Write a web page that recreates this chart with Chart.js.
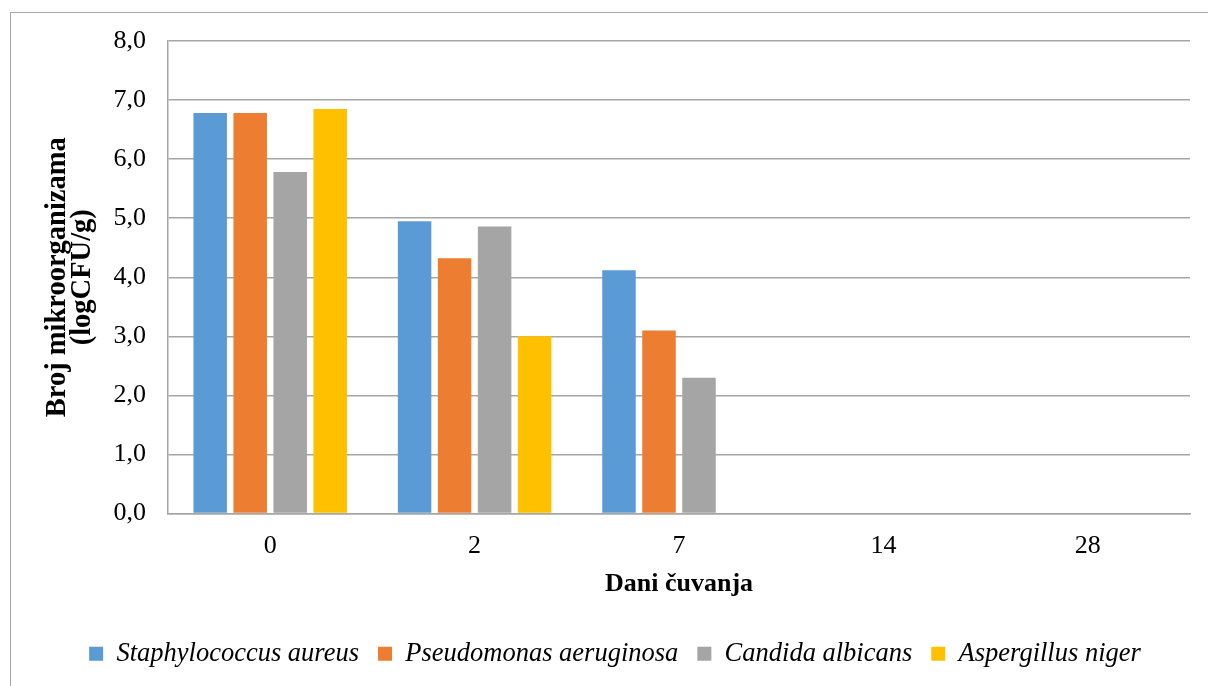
<!DOCTYPE html>
<html>
<head>
<meta charset="utf-8">
<script src="https://cdn.jsdelivr.net/npm/chart.js@4/dist/chart.umd.min.js"></script>
<style>
  html, body { margin: 0; padding: 0; background: #fff; }
  #wrap { position: relative; width: 1208px; height: 686px; overflow: hidden; }
  #frame { position: absolute; left: 10px; top: 12px; width: 1300px; height: 800px;
           border-left: 1.5px solid #a6a6a6; border-top: 1.5px solid #a6a6a6; box-sizing: border-box; }
  canvas { position: absolute; left: 0; top: 0; }
</style>
</head>
<body>
<div id="wrap">
  <div id="frame"></div>
  <canvas id="c" width="1208" height="686"></canvas>
</div>
<script>
const categories = ['0', '2', '7', '14', '28'];
const seriesNames = ['Staphylococcus aureus', 'Pseudomonas aeruginosa', 'Candida albicans', 'Aspergillus niger'];
const staphylococcus = [6.78, 4.95, 4.12, 0, 0];
const pseudomonas = [6.78, 4.32, 3.10, 0, 0];
const candida = [5.78, 4.86, 2.30, 0, 0];
const aspergillus = [6.85, 3.00, 0, 0, 0];
const yTickLabels = ['0,0', '1,0', '2,0', '3,0', '4,0', '5,0', '6,0', '7,0', '8,0'];
const colors = ['#5B9BD5', '#ED7D31', '#A5A5A5', '#FFC000'];
const xTitle = 'Dani čuvanja';
const yTitle = ['Broj mikroorganizama', '(logCFU/g)'];

const seriesValues = [staphylococcus, pseudomonas, candida, aspergillus];
const FONT = "'Liberation Serif', 'Times New Roman', serif";

new Chart(document.getElementById('c'), {
  type: 'bar',
  data: {
    labels: categories,
    datasets: seriesNames.map((name, i) => ({
      label: name,
      data: seriesValues[i],
      backgroundColor: colors[i],
      borderWidth: 0,
      categoryPercentage: 0.783,
      barPercentage: 0.8375
    }))
  },
  options: {
    responsive: false,
    animation: false,
    devicePixelRatio: 1,
    layout: { padding: { left: 40, top: 41, right: 18, bottom: 9 } },
    plugins: {
      tooltip: { enabled: false },
      legend: {
        position: 'bottom',
        labels: {
          boxWidth: 14,
          boxHeight: 14,
          padding: 19,
          color: '#000',
          font: { family: FONT, size: 26.5, style: 'italic' }
        }
      }
    },
    scales: {
      x: {
        grid: { display: false, drawTicks: false },
        border: { display: true, color: '#a6a6a6', width: 1.5 },
        ticks: { color: '#000', padding: 17, font: { family: FONT, size: 26 } },
        title: {
          display: true, text: xTitle, color: '#000',
          padding: { top: 4, bottom: 22 },
          font: { family: FONT, size: 26, weight: 'bold' }
        },
        afterFit: (s) => { s.height = 108; }
      },
      y: {
        min: 0, max: 8,
        grid: { color: '#a6a6a6', lineWidth: 1.5, drawTicks: false },
        border: { display: true, color: '#a6a6a6', width: 1.5 },
        ticks: {
          stepSize: 1, padding: 22, color: '#000',
          font: { family: FONT, size: 26 },
          callback: (v, i) => yTickLabels[i]
        },
        title: {
          display: true, text: yTitle, color: '#000',
          padding: { top: 5, bottom: 0 },
          font: { family: FONT, size: 28.5, weight: 'bold', lineHeight: 0.88 }
        },
        afterFit: (s) => { s.width = 128; }
      }
    }
  }
});
</script>
</body>
</html>
